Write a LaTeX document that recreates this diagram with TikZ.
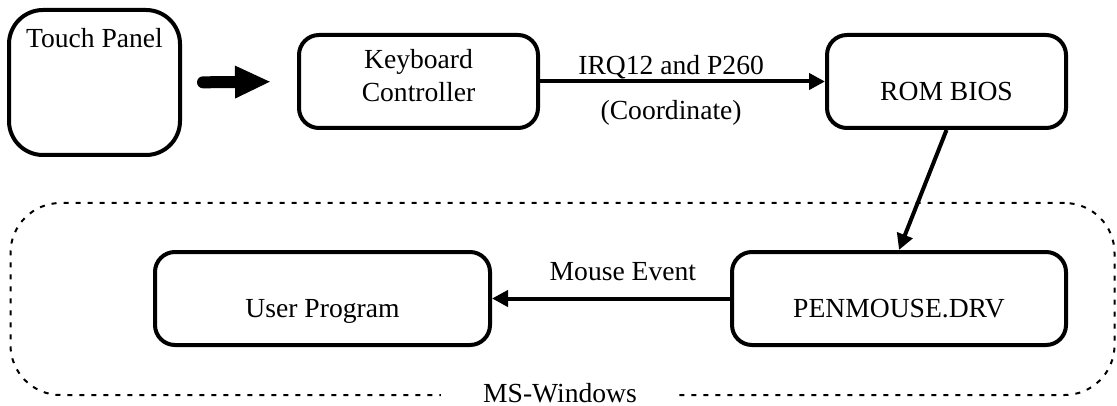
\documentclass[tikz,border=0pt]{standalone}
\usepackage{fontspec}
\setmainfont{Liberation Serif}
\usetikzlibrary{arrows.meta,positioning}

\begin{document}
\begin{tikzpicture}[x=0.5pt, y=-0.5pt,
    every node/.style={font=\fontsize{13.8}{16.5}\selectfont},
    blk/.style={rectangle, draw, line width=2pt, rounded corners=10pt,
        minimum width=119.5pt, minimum height=46.5pt, align=center},
    lowtxt/.style={text height=19pt, text depth=0pt},
    panel/.style={rectangle, draw, line width=2pt, rounded corners=17pt,
        minimum width=85.5pt, minimum height=72.5pt},
    winbox/.style={rectangle, draw, line width=1pt, dash pattern=on 2.5pt off 3.5pt,
        rounded corners=25pt, minimum width=552pt, minimum height=96pt},
    arr/.style={-{Triangle[length=8pt,width=8pt]}, line width=2pt},
    bigarr/.style={-{Triangle[length=18pt,width=15pt]}, line width=6pt, line cap=round}
]
    \useasboundingbox (0,0) rectangle (1117,406);

    \node[winbox] (win) at (562.5,299) {};
    \node[fill=white, inner xsep=21pt, inner ysep=2pt] (wintxt) at (560,393) {MS-Windows};

    \node[panel, label={[anchor=north, inner sep=0pt, yshift=-10pt]north:Touch Panel}] (tp) at (94.5,82.5) {};
    \node[blk, text depth=6pt] (kc) at (418.5,81.5) {Keyboard\\Controller};
    \node[blk, lowtxt] (rom) at (946.5,81.5) {ROM BIOS};
    \node[blk, lowtxt, minimum width=167pt] (pm) at (899,298.5) {PENMOUSE.DRV};
    \node[blk, lowtxt, minimum width=167.5pt] (up) at (322.5,298.5) {User Program};

    \draw[bigarr, shorten <=10.5pt, shorten >=13pt] (tp.east) -- (kc.west);
    \draw[arr] (kc.east) -- node[above, pos=0.46, yshift=-3pt] {IRQ12 and P260}
        node[below, pos=0.46, yshift=-5pt] {(Coordinate)} (rom.west);
    \draw[arr] (rom.south) -- (pm.north);
    \draw[arr] (pm.west) -- node[above, pos=0.45, yshift=4.5pt] {Mouse Event} (up.east);
\end{tikzpicture}
\end{document}
